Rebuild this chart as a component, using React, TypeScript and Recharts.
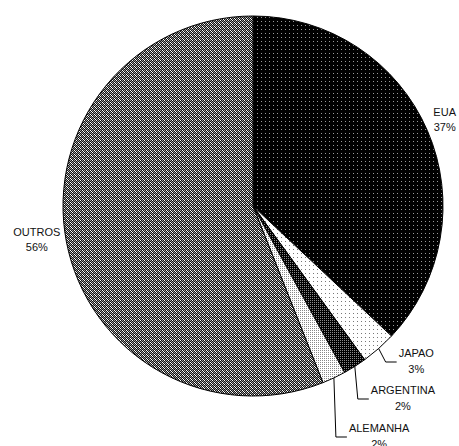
import React from "react";
import { PieChart, Pie, Cell } from "recharts";

const countries = ["EUA", "JAPAO", "ARGENTINA", "ALEMANHA", "OUTROS"];
const shares = [37, 3, 2, 2, 56];
const patternIds = ["eua", "japao", "argentina", "alemanha", "outros"];

const data = countries.map((name, i) => ({ name, value: shares[i] }));

const FONT = "11px 'Liberation Sans', Arial, sans-serif";
let ctx: CanvasRenderingContext2D | null = null;
function textWidth(s: string) {
  if (!ctx) ctx = document.createElement("canvas").getContext("2d");
  if (!ctx) return s.length * 6;
  ctx.font = FONT;
  return ctx.measureText(s).width;
}

// leader line rows (below center) for the thin slices
const leaderRows: Record<number, { drop: number; dx: number }> = {
  1: { drop: 156, dx: 7 },
  2: { drop: 193, dx: 3 },
  3: { drop: 231, dx: 2 },
};

const RAD = Math.PI / 180;

function renderLabel(props: any) {
  const { cx, cy, midAngle, outerRadius, index, name, value } = props;
  const pct = `${value}%`;
  const ex = cx + outerRadius * Math.cos(-midAngle * RAD);
  const ey = cy + outerRadius * Math.sin(-midAngle * RAD);
  const w = textWidth(name);
  const txt = { fontFamily: "'Liberation Sans', Arial, sans-serif", fontSize: 11, fill: "#111" };

  const row = leaderRows[index];
  if (row) {
    const elbowX = ex + row.dx;
    const elbowY = cy + row.drop;
    const endX = elbowX + 11;
    const mid = endX + 2 + w / 2;
    return (
      <g key={`lbl-${index}`}>
        <polyline
          points={`${ex},${ey} ${elbowX},${elbowY} ${endX},${elbowY}`}
          fill="none"
          stroke="#000"
          strokeWidth={1}
        />
        <text x={mid} y={elbowY - 9} textAnchor="middle" dominantBaseline="central" {...txt}>
          {name}
        </text>
        <text x={mid} y={elbowY + 7} textAnchor="middle" dominantBaseline="central" {...txt}>
          {pct}
        </text>
      </g>
    );
  }

  const right = Math.cos(-midAngle * RAD) >= 0;
  const bx = right ? ex + 6 + w / 2 : ex - 6 - w / 2;
  const by = right ? ey - 11 : ey - 2;
  return (
    <g key={`lbl-${index}`}>
      <text x={bx} y={by - 7.5} textAnchor="middle" dominantBaseline="central" {...txt}>
        {name}
      </text>
      <text x={bx} y={by + 7.5} textAnchor="middle" dominantBaseline="central" {...txt}>
        {pct}
      </text>
    </g>
  );
}

const px = (x: number, y: number, fill: string) => (
  <rect key={`${x}-${y}`} x={x} y={y} width={1} height={1} fill={fill} shapeRendering="crispEdges" />
);

export default function App() {
  const W = "#fff", K = "#111", G = "#999";
  const outrosGrid = [
    [W, K, G, K],
    [K, G, K, G],
    [G, K, W, K],
    [K, G, K, W],
  ];
  return (
    <div style={{ position: "absolute", left: 0, top: 0, background: "#fff" }}>
      <PieChart width={459} height={446} margin={{ top: 0, right: 0, bottom: 0, left: 0 }}>
        <defs>
          <pattern id="eua" width={4} height={4} patternUnits="userSpaceOnUse">
            <rect width={4} height={4} fill="#000" shapeRendering="crispEdges" />
            {px(1, 1, "#9a9a9a")}
          </pattern>
          <pattern id="japao" width={4} height={4} patternUnits="userSpaceOnUse">
            <rect width={4} height={4} fill="#fff" shapeRendering="crispEdges" />
            {px(1, 1, "#777")}
          </pattern>
          <pattern id="argentina" width={2} height={2} patternUnits="userSpaceOnUse">
            <rect width={2} height={2} fill="#000" shapeRendering="crispEdges" />
            {px(0, 0, "#8a8a8a")}
          </pattern>
          <pattern id="alemanha" width={2} height={2} patternUnits="userSpaceOnUse">
            <rect width={2} height={2} fill="#fff" shapeRendering="crispEdges" />
            {px(0, 0, "#888")}
          </pattern>
          <pattern id="outros" width={4} height={4} patternUnits="userSpaceOnUse">
            {outrosGrid.flatMap((row, y) => row.map((c, x) => px(x, y, c)))}
          </pattern>
        </defs>
        <Pie
          data={data}
          dataKey="value"
          nameKey="name"
          cx={253}
          cy={206}
          outerRadius={190}
          startAngle={90}
          endAngle={-270}
          stroke="#000"
          strokeWidth={1}
          label={renderLabel}
          labelLine={false}
          isAnimationActive={false}
        >
          {data.map((d, i) => (
            <Cell key={d.name} fill={`url(#${patternIds[i]})`} />
          ))}
        </Pie>
      </PieChart>
    </div>
  );
}
